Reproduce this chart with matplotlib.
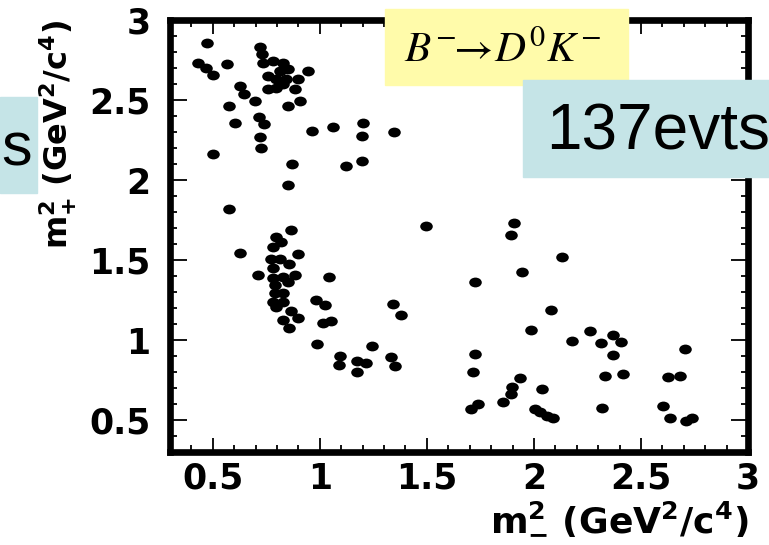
import matplotlib.pyplot as plt
from matplotlib.path import Path
from matplotlib.transforms import Affine2D
from matplotlib.patches import Rectangle
import matplotlib.ticker as ticker

# Dalitz plot events: (m-^2, m+^2) in GeV^2/c^4
m_minus_sq = [
    0.473, 0.430, 0.469, 0.500, 0.567, 0.720, 0.730,
    0.734, 0.780, 0.828, 0.851, 0.812, 0.757, 0.796, 0.843, 0.898, 0.944,
    0.757, 0.796, 0.882, 0.828, 0.905, 0.851, 0.625, 0.648, 0.695,
    0.575, 0.714, 0.737, 0.605, 0.722, 0.726, 0.500, 0.964, 1.061, 1.201,
    1.197, 1.198, 1.123, 0.871, 0.851, 0.575, 1.346,
    1.497, 1.905, 1.894, 1.723, 1.944, 2.130, 1.344, 1.380, 2.078, 1.985,
    0.866, 0.796, 0.820, 0.780, 0.898, 0.773, 0.812, 0.858, 0.711, 0.780,
    0.780, 0.827, 0.882, 0.851, 0.789, 0.789, 0.827, 0.780, 0.827, 0.796,
    0.866, 0.827, 0.898, 0.858, 0.628, 0.983, 1.022, 1.045, 1.014, 1.050,
    0.988, 1.095, 1.089, 1.173, 1.175, 1.217, 1.245, 1.334, 1.349,
    1.726, 1.715, 1.707, 1.739, 1.855, 1.894, 1.899, 1.936, 2.039, 2.003,
    2.027, 2.059, 2.089, 2.260, 2.179, 2.312, 2.370, 2.405, 2.370, 2.334,
    2.416, 2.318, 2.704, 2.627, 2.681, 2.603, 2.637, 2.709, 2.740,
]
m_plus_sq = [
    2.859, 2.731, 2.700, 2.658, 2.727, 2.830, 2.790,
    2.733, 2.743, 2.733, 2.691, 2.681, 2.650, 2.629, 2.629, 2.629, 2.681,
    2.567, 2.578, 2.567, 2.598, 2.495, 2.464, 2.588, 2.536, 2.495,
    2.462, 2.396, 2.352, 2.354, 2.271, 2.203, 2.161, 2.306, 2.333, 2.354,
    2.275, 2.120, 2.089, 2.099, 1.971, 1.820, 2.302,
    1.712, 1.733, 1.658, 1.364, 1.427, 1.520, 1.225, 1.157, 1.188, 1.064,
    1.689, 1.644, 1.613, 1.582, 1.536, 1.509, 1.509, 1.478, 1.406, 1.447,
    1.385, 1.396, 1.406, 1.364, 1.344, 1.292, 1.292, 1.240, 1.240, 1.209,
    1.184, 1.126, 1.137, 1.075, 1.545, 1.250, 1.219, 1.396, 1.106, 1.120,
    0.977, 0.899, 0.843, 0.871, 0.801, 0.857, 0.961, 0.893, 0.837,
    0.913, 0.801, 0.567, 0.598, 0.613, 0.660, 0.706, 0.760, 0.696, 0.567,
    0.547, 0.526, 0.511, 1.058, 0.996, 0.981, 1.033, 0.986, 0.909, 0.774,
    0.785, 0.578, 0.944, 0.768, 0.778, 0.588, 0.511, 0.495, 0.511,
]

tick_vals = [0.5, 1.0, 1.5, 2.0, 2.5, 3.0]
tick_labels = ['0.5', '1', '1.5', '2', '2.5', '3']

W, H = 769, 545


def fx(px):
    return px / W


def fy(py):
    return 1 - py / H


plt.rcParams['font.family'] = 'DejaVu Sans'

fig = plt.figure(figsize=(W / 100, H / 100), dpi=100)
ax = fig.add_axes([fx(170), fy(452), (748 - 170) / W, (452 - 20) / H])

# dots in the original are slightly wider than tall
dot = Path.unit_circle().transformed(Affine2D().scale(1.0, 0.78))
ax.scatter(m_minus_sq, m_plus_sq, marker=dot, s=82, c='black', linewidths=0)

ax.set_xlim(0.3, 3.0)
ax.set_ylim(0.3, 3.0)
ax.xaxis.set_major_locator(ticker.FixedLocator(tick_vals))
ax.xaxis.set_major_formatter(ticker.FixedFormatter(tick_labels))
ax.yaxis.set_major_locator(ticker.FixedLocator(tick_vals))
ax.yaxis.set_major_formatter(ticker.FixedFormatter(tick_labels))
ax.xaxis.set_minor_locator(ticker.MultipleLocator(0.1))
ax.yaxis.set_minor_locator(ticker.MultipleLocator(0.1))

ax.tick_params(which='both', direction='in', top=True, right=True, width=1.3)
ax.tick_params(axis='x', which='major', length=10, pad=7)
ax.tick_params(axis='y', which='major', length=12, pad=14)
ax.tick_params(which='minor', length=5)
for lab in ax.get_xticklabels() + ax.get_yticklabels():
    lab.set_fontsize(25)
    lab.set_fontweight('bold')

for sp in ax.spines.values():
    sp.set_linewidth(4.8)

ax.set_xlabel(r'$\mathregular{m^{2}_{-}\ (GeV^{2}/c^{4})}$', fontsize=26,
              fontweight='bold', loc='right')
ax.set_ylabel(r'$\mathregular{m^{2}_{+}\ (GeV^{2}/c^{4})}$', fontsize=23,
              fontweight='bold', loc='top')
ax.xaxis.set_label_coords(1.0, -(500 - 452) / 432)
ax.yaxis.set_label_coords(-(170 - 79) / 578, 1.0)

# overlay boxes from the slide
fig.patches.append(Rectangle((fx(385), fy(85)), (628 - 385) / W, (85 - 9) / H,
                             transform=fig.transFigure, color='#FFFBAA', zorder=5))
fig.patches.append(Rectangle((fx(523), fy(177)), (W - 523) / W, (177 - 80) / H,
                             transform=fig.transFigure, color='#C5E4E7', zorder=5))
fig.patches.append(Rectangle((0, fy(193)), 37 / W, (193 - 97) / H,
                             transform=fig.transFigure, color='#C5E4E7', zorder=5))

fig.text(fx(404), fy(62), r'$B^{-}\!\!\rightarrow\! D^{0}K^{-}$', fontsize=31,
         math_fontfamily='stix', va='baseline', ha='left', zorder=6)
fig.text(fx(546), fy(150), '137evts', fontsize=46, family='Liberation Sans',
         va='baseline', ha='left', zorder=6)
fig.text(fx(1), fy(166), 's', fontsize=44, family='Liberation Sans',
         va='baseline', ha='left', zorder=6)

fig.savefig('out.png', dpi=100)
